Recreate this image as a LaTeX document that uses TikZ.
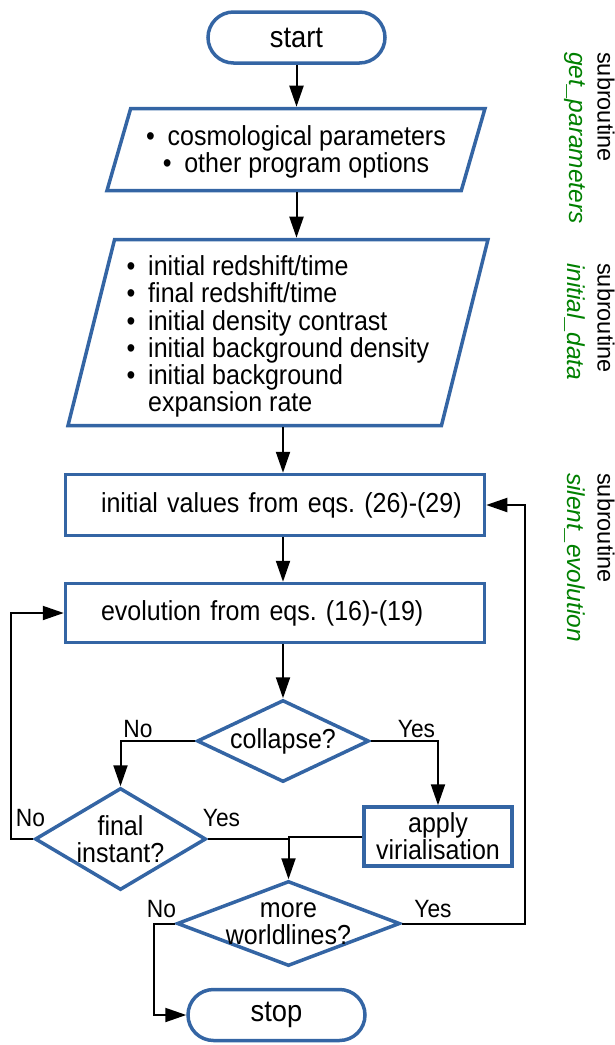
\documentclass[tikz,border=0pt]{standalone}
\usepackage{fontspec}
\setmainfont{Liberation Sans}[FakeStretch=0.91]
\newfontfamily\sidefont{Liberation Sans}
\usetikzlibrary{shapes.geometric,arrows.meta}
\definecolor{boxblue}{RGB}{52,101,164}
\definecolor{subgreen}{RGB}{0,128,0}
\newcommand{\bul}{\makebox[21.5pt][l]{•}}
\tikzset{
  outline/.style={draw=boxblue, line width=3.5pt},
  terminal/.style={outline, rectangle, rounded corners=25.5pt, minimum width=177pt,
    minimum height=51pt, font=\fontsize{30}{30}\selectfont},
  io/.style={outline, trapezium, trapezium stretches body, inner sep=0pt},
  process/.style={outline, rectangle, inner sep=0pt},
  decision/.style={outline, diamond, inner sep=-6pt, align=center},
  lbl/.style={font=\fontsize{25}{25}\selectfont, anchor=base, inner sep=0pt},
  side/.style={font=\sidefont\fontsize{23.5}{23.5}\selectfont, rotate=-90, anchor=west, inner sep=0pt},
  sidename/.style={side, font=\sidefont\itshape\fontsize{24.5}{24.5}\selectfont, text=subgreen},
  line/.style={draw, line width=2pt},
  arr/.style={-{Triangle[length=21pt,width=14pt]}}
}
\begin{document}
\frenchspacing
\begin{tikzpicture}[x=1pt, y=-1pt, font=\fontsize{27.5}{27.3}\selectfont]
\useasboundingbox (0,0) rectangle (615,1045);
% flow chart
\node[terminal] (start) at (296.5,37.5) {start};
\node[io, trapezium left angle=67.8, trapezium right angle=112.2, minimum width=378pt,
  minimum height=82pt, align=center] (par) at (296,149.5)
  {\rule{0pt}{25pt}\bul cosmological parameters\\ \bul other program options};
\node[io, trapezium left angle=74.7, trapezium right angle=105.3, minimum width=420pt,
  minimum height=186pt, align=left] (ini) at (278,332.5)
  {\rule{0pt}{28pt}\bul initial redshift/time\\ \bul final redshift/time\\ \bul initial density contrast\\
   \bul initial background density\\ \bul initial background\\ \makebox[21.5pt]{}expansion rate};
\node[process, minimum width=419pt, minimum height=61pt, text width=383pt, inner xsep=18pt,
  align=left] (vals) at (275,505) {\hspace*{17.5pt}initial values from eqs. (26)-(29)};
\node[process, minimum width=419pt, minimum height=59pt, text width=383pt, inner xsep=18pt,
  align=left] (evol) at (275,613) {\hspace*{17.5pt}evolution from eqs. (16)-(19)};
\node[decision, aspect=2.1, minimum width=172pt, minimum height=82pt] (coll) at (283,741) {collapse?};
\node[decision, aspect=1.68, minimum width=171pt, minimum height=102pt] (fin) at (120.5,839) {final\\instant?};
\node[process, minimum width=148pt, minimum height=59pt, align=center] (vir) at (438,836.5)
  {apply\\virialisation};
\node[decision, aspect=2.62, minimum width=223pt, minimum height=85pt] (more) at (288.5,923.5)
  {more\\worldlines?};
\node[terminal] (stop) at (276.5,1015) {stop};
\coordinate (back) at (11,0);
\coordinate (loop) at (525,0);
\coordinate (exit) at (154,0);
% connectors
\draw[line,arr] (start.south) -- (start.south |- par.north);
\draw[line,arr] (start.south |- par.south) -- (start.south |- ini.north);
\draw[line,arr] (ini.south -| coll) -- (vals.north -| coll);
\draw[line,arr] (vals.south -| coll) -- (evol.north -| coll);
\draw[line,arr] (evol.south -| coll) -- (coll.north);
\draw[line,arr] (coll.west) -| (fin.north);
\draw[line,arr] (coll.east) -| (vir.north);
\draw[line] (fin.east) -- (fin.east -| more);
\draw[line,arr] (vir.west) -- (vir.west -| more) -- (more.north);
\draw[line,arr] (fin.west) -- (fin.west -| back) |- (evol.west);
\draw[line,arr] (more.east) -- (more.east -| loop) |- (vals.east);
\draw[line,arr] (more.west) -- (more.west -| exit) |- (stop.west);
% branch labels
\node[lbl] (no1) at (138,737) {No};
\node[lbl] (yes1) at (416.5,737) {Yes};
\node[lbl] (no2) at (30.5,826) {No};
\node[lbl] (yes2) at (221.5,826) {Yes};
\node[lbl] (no3) at (161.5,917) {No};
\node[lbl] (yes3) at (433,917) {Yes};
% subroutine names
\node[side] (sub1) at (606,52) {subroutine};
\node[sidename] (nam1) at (575,52) {get\_parameters};
\node[side] (sub2) at (606,263) {subroutine};
\node[sidename] (nam2) at (575,263) {initial\_data};
\node[side] (sub3) at (606,473) {subroutine};
\node[sidename] (nam3) at (575,473) {silent\_evolution};
\end{tikzpicture}
\end{document}
